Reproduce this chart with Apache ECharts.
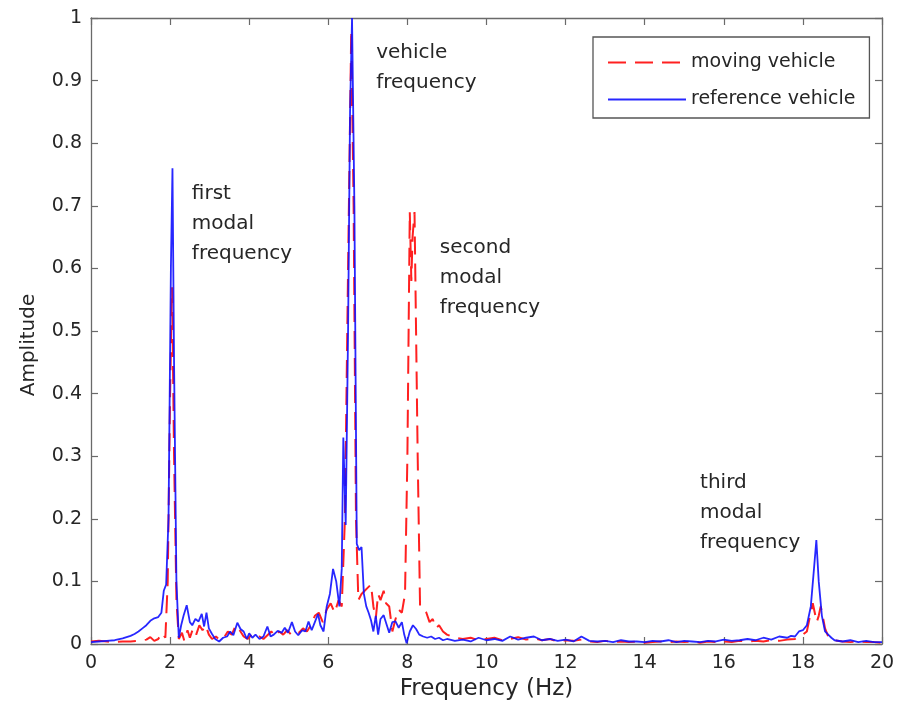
<!DOCTYPE html>
<html>
<head>
<meta charset="utf-8">
<script src="https://cdn.jsdelivr.net/npm/echarts@6/dist/echarts.min.js"></script>
<style>
html,body{margin:0;padding:0;background:#fff;}
#chart{width:900px;height:721px;}
</style>
</head>
<body>
<div id="chart"></div>
<script>
// ---- Data ----
var seriesNames = ['moving vehicle', 'reference vehicle'];

var freqMoving = [
  0, 0.2, 0.4, 0.6, 0.8, 1.0, 1.2, 1.4, 1.5, 1.6,
  1.7, 1.8, 1.88, 1.94, 2.0, 2.05, 2.1, 2.16, 2.22, 2.3,
  2.36, 2.44, 2.5, 2.58, 2.66, 2.74, 2.82, 2.9, 2.98, 3.06,
  3.16, 3.26, 3.36, 3.46, 3.56, 3.66, 3.76, 3.86, 3.96, 4.06,
  4.16, 4.26, 4.36, 4.46, 4.56, 4.66, 4.76, 4.86, 4.96, 5.06,
  5.16, 5.26, 5.36, 5.46, 5.56, 5.66, 5.76, 5.86, 5.96, 6.06,
  6.16, 6.26, 6.34, 6.42, 6.5, 6.58, 6.64, 6.7, 6.76, 6.84,
  6.92, 7.0, 7.08, 7.14, 7.2, 7.26, 7.32, 7.4, 7.46, 7.54,
  7.62, 7.7, 7.78, 7.86, 7.94, 8.0, 8.06, 8.1, 8.13, 8.18,
  8.26, 8.32, 8.4, 8.48, 8.56, 8.64, 8.72, 8.8, 8.9, 9.0,
  9.2, 9.4, 9.6, 9.8, 10.0, 10.2, 10.4, 10.6, 10.8, 11.0,
  11.2, 11.4, 11.6, 11.8, 12.0, 12.2, 12.4, 12.6, 12.8, 13.0,
  13.2, 13.4, 13.6, 13.8, 14.0, 14.2, 14.4, 14.6, 14.8, 15.0,
  15.2, 15.4, 15.6, 15.8, 16.0, 16.2, 16.4, 16.6, 16.8, 17.0,
  17.2, 17.4, 17.6, 17.8, 17.9, 18.0, 18.1, 18.18, 18.25, 18.3,
  18.35, 18.4, 18.45, 18.5, 18.56, 18.64, 18.72, 18.8, 19.0, 19.2,
  19.4, 19.6, 19.8, 20.0
];
var ampMoving = [
  0.004, 0.005, 0.004, 0.003, 0.004, 0.004, 0.005, 0.007, 0.011, 0.005,
  0.008, 0.018, 0.01, 0.1, 0.4, 0.57, 0.3, 0.07, 0.008, 0.018,
  0.005, 0.022, 0.01, 0.025, 0.015, 0.03, 0.022, 0.03, 0.015, 0.008,
  0.012, 0.006, 0.01, 0.02, 0.015, 0.03, 0.022, 0.012, 0.008, 0.015,
  0.01, 0.012, 0.008, 0.014, 0.02, 0.012, 0.02, 0.015, 0.022, 0.015,
  0.02, 0.018, 0.025, 0.02, 0.03, 0.045, 0.05, 0.035, 0.055, 0.065,
  0.05, 0.07, 0.06, 0.2, 0.6, 0.98, 0.7, 0.2, 0.07, 0.08,
  0.085, 0.09, 0.095, 0.06, 0.04, 0.08, 0.07, 0.085, 0.065, 0.06,
  0.02, 0.04, 0.055, 0.05, 0.08, 0.3, 0.69, 0.58, 0.65, 0.69,
  0.3, 0.06, 0.055, 0.05, 0.035, 0.04, 0.025, 0.03, 0.02, 0.015,
  0.01, 0.008, 0.01, 0.006, 0.008, 0.01, 0.006, 0.008, 0.011, 0.007,
  0.009, 0.006, 0.008, 0.004, 0.006, 0.005, 0.007, 0.004, 0.003, 0.005,
  0.003, 0.004, 0.003, 0.004, 0.002, 0.003, 0.004, 0.003, 0.004, 0.003,
  0.004, 0.002, 0.004, 0.003, 0.004, 0.003, 0.005, 0.004, 0.005, 0.004,
  0.006, 0.005, 0.007, 0.008, 0.012, 0.015, 0.02, 0.045, 0.065, 0.05,
  0.035, 0.045, 0.06, 0.045, 0.025, 0.012, 0.008, 0.006, 0.004, 0.003,
  0.004, 0.003, 0.003, 0.002
];

var freqReference = [
  0, 0.2, 0.4, 0.6, 0.8, 1.0, 1.1, 1.2, 1.3, 1.4,
  1.5, 1.6, 1.7, 1.78, 1.84, 1.9, 1.96, 2.02, 2.06, 2.1,
  2.16, 2.22, 2.28, 2.34, 2.42, 2.5, 2.56, 2.64, 2.72, 2.8,
  2.86, 2.92, 2.98, 3.06, 3.14, 3.24, 3.34, 3.44, 3.52, 3.6,
  3.7, 3.78, 3.86, 3.94, 4.0, 4.08, 4.16, 4.26, 4.36, 4.46,
  4.54, 4.62, 4.72, 4.82, 4.9, 4.98, 5.08, 5.16, 5.24, 5.34,
  5.42, 5.5, 5.58, 5.66, 5.74, 5.8, 5.88, 5.96, 6.04, 6.12,
  6.2, 6.28, 6.34, 6.38, 6.44, 6.5, 6.55, 6.6, 6.66, 6.72,
  6.78, 6.84, 6.9, 6.96, 7.02, 7.08, 7.14, 7.2, 7.26, 7.32,
  7.4, 7.48, 7.54, 7.62, 7.7, 7.78, 7.86, 7.92, 7.98, 8.06,
  8.14, 8.22, 8.3, 8.4, 8.5, 8.6, 8.7, 8.8, 8.9, 9.0,
  9.2, 9.4, 9.6, 9.8, 10.0, 10.2, 10.4, 10.6, 10.8, 11.0,
  11.2, 11.4, 11.6, 11.8, 12.0, 12.2, 12.4, 12.6, 12.8, 13.0,
  13.2, 13.4, 13.6, 13.8, 14.0, 14.2, 14.4, 14.6, 14.8, 15.0,
  15.2, 15.4, 15.6, 15.8, 16.0, 16.2, 16.4, 16.6, 16.8, 17.0,
  17.2, 17.4, 17.6, 17.7, 17.8, 17.9, 18.0, 18.1, 18.2, 18.28,
  18.34, 18.4, 18.48, 18.56, 18.64, 18.72, 18.8, 19.0, 19.2, 19.4,
  19.6, 19.8, 20.0
];
var ampReference = [
  0.003, 0.004, 0.005, 0.006, 0.009, 0.013, 0.016, 0.02, 0.025, 0.03,
  0.037, 0.041, 0.043, 0.05, 0.085, 0.095, 0.2, 0.6, 0.76, 0.45,
  0.1, 0.01, 0.03, 0.045, 0.062, 0.035, 0.03, 0.04, 0.036, 0.048,
  0.028, 0.05, 0.025, 0.016, 0.008, 0.004, 0.01, 0.012, 0.02, 0.014,
  0.034, 0.024, 0.02, 0.008, 0.017, 0.01, 0.015, 0.008, 0.012, 0.028,
  0.012, 0.015, 0.021, 0.018, 0.026, 0.018, 0.035, 0.02, 0.014, 0.022,
  0.02, 0.036, 0.022, 0.035, 0.048, 0.03, 0.02, 0.06, 0.08, 0.12,
  0.1, 0.06, 0.12, 0.33, 0.19, 0.5, 0.85, 1.0, 0.7, 0.16,
  0.15, 0.155, 0.08, 0.06, 0.05, 0.038, 0.02, 0.045, 0.015, 0.04,
  0.046, 0.03, 0.018, 0.035, 0.036, 0.026, 0.035, 0.015, 0.001, 0.02,
  0.03, 0.024, 0.015, 0.012, 0.01, 0.012, 0.008, 0.01, 0.006, 0.008,
  0.005, 0.007, 0.004, 0.01, 0.006, 0.008, 0.005, 0.012, 0.007, 0.01,
  0.012, 0.006, 0.008, 0.005, 0.007, 0.004, 0.012, 0.005, 0.004, 0.005,
  0.003, 0.006, 0.004, 0.004, 0.003, 0.005, 0.004, 0.006, 0.003, 0.005,
  0.004, 0.003, 0.005, 0.004, 0.007, 0.005, 0.006, 0.008, 0.006, 0.01,
  0.007, 0.012, 0.01, 0.013, 0.012, 0.02, 0.022, 0.03, 0.06, 0.12,
  0.166, 0.1, 0.045, 0.02, 0.015, 0.01, 0.006, 0.004, 0.006, 0.003,
  0.005, 0.003, 0.003
];

// Annotation texts and their anchor (top-left) in data coordinates
var annotationTexts = ['first\nmodal\nfrequency', 'vehicle\nfrequency', 'second\nmodal\nfrequency', 'third\nmodal\nfrequency'];
var annotationFreq = [2.55, 7.21, 8.82, 15.4];
var annotationAmp = [0.743, 0.968, 0.657, 0.281];

var xTicks = { min: 0, max: 20, interval: 2 };
var yTicks = { min: 0, max: 1, interval: 0.1 };

// ---- Chart ----
var FONT = 'DejaVu Sans';
var AXIS_COLOR = '#6a6a6a';
var TEXT_COLOR = '#262626';

function pairs(xs, ys) {
  var out = [];
  for (var i = 0; i < xs.length; i++) out.push([xs[i], ys[i]]);
  return out;
}

var chart = echarts.init(document.getElementById('chart'), null, { renderer: 'canvas' });

var axisCommon = {
  axisLine: { show: true, onZero: false, lineStyle: { color: AXIS_COLOR, width: 1.3 } },
  axisTick: { show: true, inside: true, length: 7, lineStyle: { color: AXIS_COLOR, width: 1.2 } },
  splitLine: { show: false }
};

var option = {
  animation: false,
  backgroundColor: '#ffffff',
  grid: { left: 91, right: 18, top: 18, bottom: 77, containLabel: false },
  legend: {
    orient: 'vertical',
    left: 593,
    top: 37,
    padding: [16, 14, 9, 14],
    itemWidth: 78,
    itemHeight: 14,
    itemGap: 18,
    backgroundColor: '#ffffff',
    borderColor: '#555555',
    borderWidth: 1.3,
    borderRadius: 0,
    itemStyle: { opacity: 0 },
    textStyle: { fontFamily: FONT, fontSize: 19, color: TEXT_COLOR },
    data: seriesNames
  },
  xAxis: [
    Object.assign({
      type: 'value', position: 'bottom',
      min: xTicks.min, max: xTicks.max, interval: xTicks.interval,
      name: 'Frequency (Hz)', nameLocation: 'middle', nameGap: 27,
      nameTextStyle: { fontFamily: FONT, fontSize: 23, color: TEXT_COLOR },
      axisLabel: { fontFamily: FONT, fontSize: 19, color: TEXT_COLOR, margin: 10 }
    }, axisCommon),
    Object.assign({
      type: 'value', position: 'top',
      min: xTicks.min, max: xTicks.max, interval: xTicks.interval,
      axisLabel: { show: false }
    }, axisCommon)
  ],
  yAxis: [
    Object.assign({
      type: 'value', position: 'left',
      min: yTicks.min, max: yTicks.max, interval: yTicks.interval,
      name: 'Amplitude', nameLocation: 'middle', nameGap: 52,
      nameTextStyle: { fontFamily: FONT, fontSize: 20, color: TEXT_COLOR, padding: [0, 28, 0, 0] },
      axisLabel: { fontFamily: FONT, fontSize: 19, color: TEXT_COLOR, margin: 9 }
    }, axisCommon),
    Object.assign({
      type: 'value', position: 'right',
      min: yTicks.min, max: yTicks.max, interval: yTicks.interval,
      axisLabel: { show: false }
    }, axisCommon)
  ],
  series: [
    {
      name: seriesNames[0],
      type: 'line',
      xAxisIndex: 0, yAxisIndex: 0,
      symbol: 'none',
      smooth: false,
      color: '#ff0000',
      lineStyle: { color: '#ff2020', width: 2, type: [18, 9] },
      data: pairs(freqMoving, ampMoving),
      z: 2
    },
    {
      name: seriesNames[1],
      type: 'line',
      xAxisIndex: 0, yAxisIndex: 0,
      symbol: 'none',
      smooth: false,
      color: '#0000ff',
      lineStyle: { color: '#1010ff', width: 1.8, opacity: 0.9 },
      data: pairs(freqReference, ampReference),
      z: 3
    }
  ]
};

chart.setOption(option);

// Place annotations using the chart's own coordinate conversion
var graphics = [];
for (var i = 0; i < annotationTexts.length; i++) {
  var p = chart.convertToPixel({ gridIndex: 0 }, [annotationFreq[i], annotationAmp[i]]);
  graphics.push({
    type: 'text',
    x: p[0],
    y: p[1],
    z: 10,
    style: {
      text: annotationTexts[i],
      fontFamily: FONT,
      fontSize: 20,
      lineHeight: 30,
      fill: TEXT_COLOR,
      align: 'left',
      verticalAlign: 'top'
    }
  });
}
chart.setOption({ graphic: graphics });
</script>
</body>
</html>
